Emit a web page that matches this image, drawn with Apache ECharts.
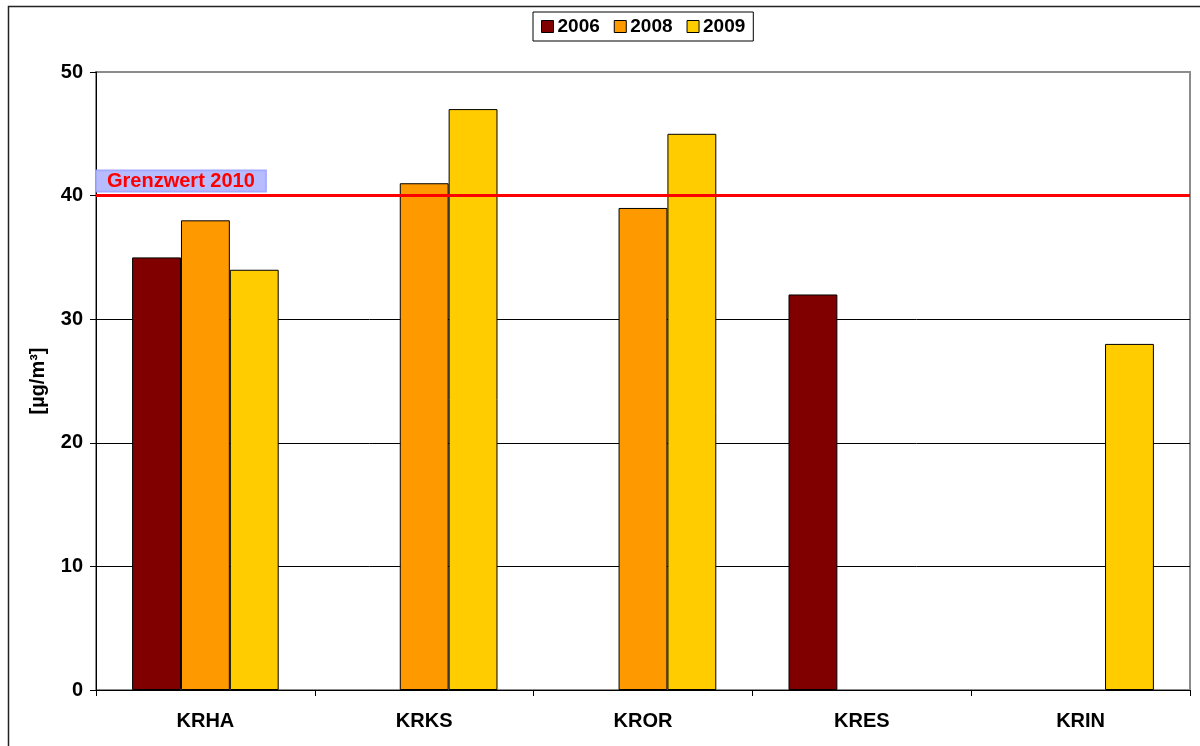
<!DOCTYPE html>
<html>
<head>
<meta charset="utf-8">
<script src="https://cdn.jsdelivr.net/npm/echarts@6/dist/echarts.min.js"></script>
<style>
  html, body { margin: 0; padding: 0; background: #fff; }
  #chart { width: 1200px; height: 746px; }
</style>
</head>
<body>
<div id="chart"></div>
<script>
// Stations and yearly mean values in µg/m³ (null = no measurement that year)
const stations = ['KRHA', 'KRKS', 'KROR', 'KRES', 'KRIN'];
const years = ['2006', '2008', '2009'];
const values2006 = [35, null, null, 32, null];
const values2008 = [38, 41, 39, null, null];
const values2009 = [34, 47, 45, null, 28];
const limitValue = 40;
const limitLabel = 'Grenzwert 2010';
const yTicks = { min: 0, max: 50, interval: 10 };

const FONT = 'Arial, "Liberation Sans", sans-serif';
const colors = ['#800000', '#ff9900', '#ffcc00'];
const seriesValues = [values2006, values2008, values2009];

const chart = echarts.init(document.getElementById('chart'), null, { renderer: 'canvas' });

const series = years.map((year, i) => ({
  name: year,
  type: 'bar',
  data: seriesValues[i],
  barGap: '0%',
  barCategoryGap: '33%',
  itemStyle: { color: colors[i], borderColor: '#000', borderWidth: 1 },
  emphasis: { disabled: true }
}));

// Limit value as a red horizontal line with a boxed caption above its start
series[0].markLine = {
  silent: true,
  symbol: ['none', 'none'],
  lineStyle: { color: '#ff0000', width: 3, type: 'solid' },
  data: [{ yAxis: limitValue }],
  label: {
    show: true,
    position: 'insideStartTop',
    formatter: limitLabel,
    color: '#ff0000',
    fontFamily: FONT,
    fontWeight: 'bold',
    fontSize: 20,
    backgroundColor: 'rgba(170,176,255,0.85)',
    borderColor: 'rgba(150,156,255,0.9)',
    borderWidth: 1,
    padding: [1, 11, 0, 11],
    distance: [0, 4]
  }
};

// Gridlines are black; the one at the top edge takes the grey frame colour
const splitColors = ['#000', '#000', '#000', '#000', '#000', '#8c8c8c'];

chart.setOption({
  animation: false,
  backgroundColor: '#fff',
  color: colors,
  legend: {
    data: years,
    top: 12,
    left: 533,
    icon: 'rect',
    itemWidth: 12,
    itemHeight: 12,
    itemGap: 14,
    padding: [5, 8, 5, 8],
    borderColor: '#000',
    borderWidth: 1,
    itemStyle: { borderColor: '#000', borderWidth: 1 },
    textStyle: { fontFamily: FONT, fontWeight: 'bold', fontSize: 19, color: '#000', padding: [0, 0, 0, -1] }
  },
  grid: {
    left: 96,
    right: 10,
    top: 72,
    bottom: 56,
    show: true,
    borderColor: '#8c8c8c',
    borderWidth: 2
  },
  xAxis: {
    type: 'category',
    data: stations,
    boundaryGap: true,
    axisLine: { lineStyle: { color: '#000', width: 1 } },
    axisTick: { show: true, length: 6, lineStyle: { color: '#000' }, alignWithLabel: false },
    axisLabel: { fontFamily: FONT, fontWeight: 'bold', fontSize: 20, color: '#000', margin: 21 },
    splitLine: { show: false }
  },
  yAxis: {
    type: 'value',
    min: yTicks.min,
    max: yTicks.max,
    interval: yTicks.interval,
    name: '[µg/m³]',
    nameLocation: 'middle',
    nameGap: 48,
    nameRotate: 90,
    nameTextStyle: { fontFamily: FONT, fontWeight: 'bold', fontSize: 20, color: '#000' },
    axisLine: { show: true, lineStyle: { color: '#000', width: 1 } },
    axisTick: { show: true, length: 6, lineStyle: { color: '#000' } },
    axisLabel: { fontFamily: FONT, fontWeight: 'bold', fontSize: 20, color: '#000', margin: 13 },
    splitLine: { show: true, lineStyle: { color: splitColors, width: 1 } }
  },
  graphic: [{
    type: 'rect',
    silent: true,
    shape: { x: 8.5, y: 6.5, width: 1300, height: 1000 },
    style: { fill: 'none', stroke: '#222', lineWidth: 1.5 },
    z: 100
  }],
  series: series
});
</script>
</body>
</html>
